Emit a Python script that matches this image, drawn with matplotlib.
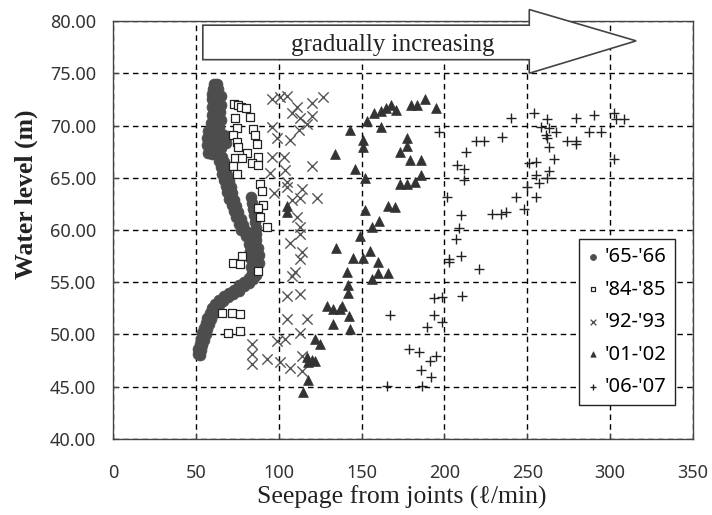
import matplotlib
matplotlib.use("Agg")
import matplotlib.pyplot as plt
from matplotlib.patches import Polygon

# '65-'66 (dense curve of filled circles)
s65_x = [61, 63, 60.5, 63.5, 60, 63, 65, 60, 62.5, 65, 59.5, 62, 64.5, 59.5, 62, 65, 59, 61.5, 64,
         57.5, 60, 62.5, 66, 69, 57, 59.5, 62, 65, 68, 56.5, 59, 62, 65, 57.5, 60, 63, 66,
         64, 67, 65, 68, 66, 69, 67, 70, 68, 71, 69, 72, 70, 73,
         72, 74.5, 73, 75.5, 74.5, 77, 76, 78.5, 77.5, 80,
         83.5, 84, 84.5, 85, 85.5, 86, 86.5,
         80.5, 83, 86, 82, 85, 87.5, 82.5, 85.5, 88, 83, 86, 88, 83.5, 86, 84, 86.5,
         82, 84.5, 79, 82, 76, 79, 73, 76,
         70, 72.5, 67, 69.5, 64, 66.5, 61.5, 64, 60,
         58.5, 60.5, 57, 59, 56, 58, 55, 57, 54, 56, 53, 55,
         52.5, 54, 51.5, 53, 51, 52.5]
s65_y = [74.0, 74.0, 73.5, 73.5, 73.0, 73.0, 72.8, 72.5, 72.3, 72.0, 71.8, 71.5, 71.3, 71.0, 70.7, 70.5, 70.2, 70.0, 69.9,
         69.5, 69.4, 69.3, 69.2, 69.0, 68.8, 68.7, 68.6, 68.5, 68.3, 68.1, 68.0, 67.9, 67.8, 67.4, 67.3, 67.2, 67.0,
         66.6, 66.5, 66.0, 65.9, 65.4, 65.3, 64.8, 64.7, 64.2, 64.1, 63.6, 63.5, 63.0, 62.9,
         62.4, 62.3, 61.8, 61.7, 61.2, 61.1, 60.6, 60.5, 60.0, 59.9,
         63.2, 62.6, 62.0, 61.4, 60.8, 60.2, 59.6,
         59.4, 59.2, 59.0, 58.7, 58.5, 58.3, 58.0, 57.8, 57.6, 57.2, 57.0, 56.8, 56.5, 56.3, 55.9, 55.7,
         55.4, 55.3, 55.0, 54.9, 54.7, 54.6, 54.3, 54.2,
         54.0, 53.9, 53.7, 53.6, 53.3, 53.2, 52.9, 52.8, 52.5,
         52.1, 52.0, 51.6, 51.5, 51.1, 51.0, 50.6, 50.5, 50.1, 50.0, 49.6, 49.5,
         49.1, 49.0, 48.6, 48.5, 48.1, 48.0]

# '84-'85 (open squares)
s84_x = [73, 75.5, 77.5, 80.5, 73.5, 82.5, 74.7, 84.5, 72.3, 85.5, 74.7, 86.7, 75.3, 80.7, 87.3,
         73.5, 78, 83.7, 87.3, 72.3, 74.7, 88.5, 89.7, 90.3, 87.3, 88.5, 92.8, 78, 72.3, 76.5,
         87.3, 66, 71.7, 76.5, 69.3, 76.5]
s84_y = [72.1, 72.0, 71.8, 71.7, 70.7, 70.8, 69.8, 69.7, 69.1, 69.1, 68.4, 68.2, 67.9, 67.4, 67.0,
         66.9, 66.9, 66.4, 66.2, 66.1, 65.4, 64.4, 63.7, 62.4, 62.1, 61.2, 60.3, 57.5, 56.8, 56.7,
         56.1, 52.1, 52.1, 52.0, 50.1, 50.3]

# '92-'93 (crosses)
s92_x = [96, 101, 105, 111, 120, 127, 108, 113, 120, 117, 96, 112, 99, 107, 96, 103, 120, 95,
         104, 105, 97, 105, 114, 108, 113, 123, 111, 113, 113, 107, 114, 113, 110, 108, 105, 113,
         105, 117, 99, 104, 113, 84, 84, 84, 93, 101, 107, 114, 114]
s92_y = [72.5, 72.7, 72.8, 71.8, 72.2, 72.7, 71.2, 70.7, 70.9, 70.1, 69.9, 69.6, 68.8, 68.6, 67.0, 67.0, 66.1, 65.5,
         65.7, 64.6, 63.5, 64.1, 63.9, 62.9, 63.1, 63.1, 61.2, 60.3, 59.6, 58.8, 57.9, 57.2, 56.0, 55.6, 53.7, 53.9,
         51.5, 51.5, 49.4, 49.6, 50.1, 49.1, 48.1, 47.2, 47.7, 47.4, 46.8, 47.9, 46.5]

# '01-'02 (filled triangles)
s01_x = [153, 157.8, 162, 165, 168, 171, 162, 142.8, 150.6, 150.6, 133.7, 146, 151.8, 104.8, 104.8,
         151.8, 165.7, 170, 160.8, 156, 148.8, 134.5, 144.6, 150.6, 154.8, 160, 141, 160, 165.7,
         156, 141.6, 141.6, 129, 132.5, 136.7, 138, 142.2, 132.5, 142.8, 121.7, 124.7, 117, 120,
         121.7, 117.5, 117.5, 114.5, 180, 183.7, 188, 195, 177.7, 177.7, 173, 179, 186, 173,
         177.7, 182, 186]
s01_y = [70.4, 71.2, 71.4, 71.7, 72.0, 71.5, 69.9, 69.6, 68.6, 67.9, 67.3, 65.8, 65.0, 62.3, 61.7,
         61.9, 62.3, 62.2, 60.9, 60.3, 59.4, 58.3, 57.3, 57.3, 58.0, 56.9, 56.0, 55.9, 55.9,
         55.3, 54.7, 54.0, 52.7, 52.4, 52.4, 52.7, 51.8, 51.0, 50.5, 49.6, 49.1, 47.8, 47.6,
         47.5, 47.4, 45.6, 44.5, 72.0, 72.0, 72.5, 71.7, 68.8, 68.0, 67.5, 66.7, 66.7, 64.4,
         64.4, 64.6, 65.3]

# '06-'07 (plus signs)
s06_x = [240.4, 254.2, 262, 279.5, 290.4, 302.4, 303.6, 308.4, 258.4, 263.3, 197, 261.4, 267.5,
         287.3, 294.6, 262, 235, 219.3, 224.1, 274.1, 279.5, 279.5, 213.3, 263.3, 266.3, 302.4,
         251.2, 255.4, 207.8, 212, 212, 255.4, 263.3, 262, 257.2, 250, 243.4, 255.4, 201.8,
         248.2, 237.3, 228.9, 234.3, 210.2, 209, 207.2, 203, 203, 210.2, 221.1, 194, 198.8,
         210.8, 166.9, 194, 198.8, 189.2, 178.9, 184.9, 195.2, 191, 186.1, 192.2, 186.7, 165.1]
s06_y = [70.7, 71.2, 70.6, 70.7, 71.0, 71.2, 70.6, 70.6, 69.9, 69.8, 69.4, 69.1, 69.4,
         69.4, 69.4, 68.8, 68.9, 68.5, 68.5, 68.5, 68.5, 68.2, 67.5, 67.9, 66.8, 66.8,
         66.4, 66.5, 66.2, 65.8, 64.8, 65.3, 65.6, 65.0, 64.5, 64.1, 63.2, 63.2, 63.2,
         62.0, 61.7, 61.5, 61.5, 61.4, 60.2, 59.1, 57.2, 56.9, 57.5, 56.3, 53.5, 53.6,
         53.7, 51.9, 51.9, 51.2, 50.7, 48.6, 48.3, 47.9, 47.5, 46.6, 45.9, 45.1, 45.1]

x_ticks = [0, 50, 100, 150, 200, 250, 300, 350]
y_ticks = [40, 45, 50, 55, 60, 65, 70, 75, 80]

# arrow outline (data coords, pokes above the axes)
arrow_x = [54.2, 251.2, 251.2, 315.7, 251.2, 251.2, 54.2]
arrow_y = [79.6, 79.6, 81.1, 78.1, 75.0, 76.3, 76.3]

serif = ["Liberation Serif", "DejaVu Serif"]
sans = ["Noto Sans", "DejaVu Sans"]

fig = plt.figure(figsize=(7.12, 5.15), dpi=100)
ax = fig.add_axes([0.1587, 0.1476, 0.8146, 0.8116])

ax.scatter(s65_x, s65_y, marker="o", s=62, facecolor="#4d4d4d", edgecolor="#4d4d4d",
           linewidth=0.5, label="'65-'66", zorder=3)
ax.scatter(s84_x, s84_y, marker="s", s=40, facecolor="white", edgecolor="#222222",
           linewidth=0.9, label="'84-'85", zorder=4)
ax.scatter(s92_x, s92_y, marker="x", s=55, color="#555555", linewidth=1.0,
           label="'92-'93", zorder=4)
ax.scatter(s01_x, s01_y, marker="^", s=50, facecolor="#333333", edgecolor="#333333",
           linewidth=0.5, label="'01-'02", zorder=4)
ax.scatter(s06_x, s06_y, marker="+", s=62, color="#222222", linewidth=1.0,
           label="'06-'07", zorder=4)

arrow = Polygon(list(zip(arrow_x, arrow_y)), closed=True, facecolor="white",
                edgecolor="#444444", linewidth=1.2, clip_on=False, zorder=5)
ax.add_patch(arrow)
ax.text(169, 77.7, "gradually increasing", ha="center", va="center",
        fontsize=18, family=serif, color="#222222", zorder=6)

ax.set_xlim(0, 350)
ax.set_ylim(40, 80)
ax.set_xticks(x_ticks)
ax.set_yticks(y_ticks)
ax.set_xticklabels([str(v) for v in x_ticks], family=sans, fontsize=13, color="#333333")
ax.set_yticklabels([f"{v:.2f}" for v in y_ticks], family=sans, fontsize=13, color="#333333")
ax.tick_params(direction="in", length=4, width=0.8, color="#444444", pad=12)
ax.tick_params(axis="x", pad=18)

ax.grid(True, linestyle=(0, (4, 3)), color="black", linewidth=1.0)
ax.set_axisbelow(True)
for sp in ax.spines.values():
    sp.set_color("#444444")
    sp.set_linewidth(1.0)

ax.set_xlabel("Seepage from joints (\u2113/min)", family=serif, fontsize=18.5,
              color="#222222")
ax.xaxis.set_label_coords(0.497, -0.111)
ax.set_ylabel("Water level (m)", family=serif, fontsize=18.5, fontweight="bold",
              color="#222222")
ax.yaxis.set_label_coords(-0.13, 0.586)

leg = ax.legend(loc="lower right", bbox_to_anchor=(0.969, 0.081), borderaxespad=0,
                prop={"family": sans, "size": 14.5}, markerscale=0.55, handletextpad=0.3,
                handlelength=0.6, labelspacing=0.62, borderpad=0.4, fancybox=False,
                framealpha=1, edgecolor="#222222")
leg.get_frame().set_linewidth(1.0)
leg.set_zorder(7)

fig.savefig("out.png", dpi=100)
